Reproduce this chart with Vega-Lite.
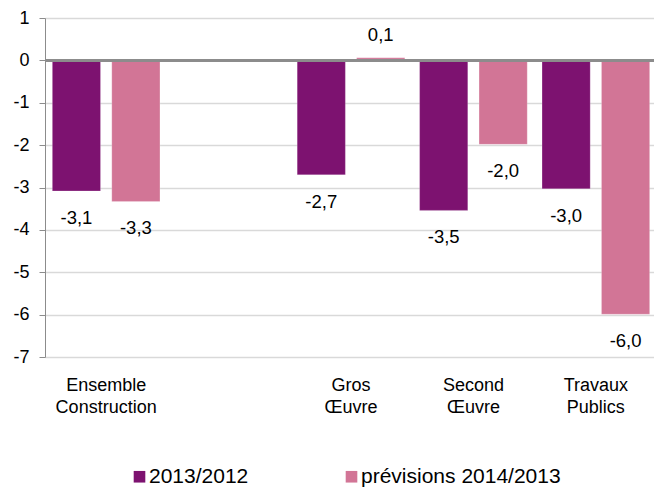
{
  "$schema": "https://vega.github.io/schema/vega-lite/v6.json",
  "width": 609,
  "height": 339,
  "autosize": {"type": "none"},
  "padding": {"left": 45, "top": 18, "right": 0, "bottom": 131},
  "config": {
    "font": "Liberation Sans",
    "view": {"stroke": null},
    "locale": {"number": {"decimal": ",", "thousands": " ", "grouping": [3], "currency": ["", " €"], "minus": "-"}}
  },
  "data": {
    "values": [
      {"categorie": "Ensemble|Construction", "serie": "2013/2012", "valeur": -3.08},
      {"categorie": "Ensemble|Construction", "serie": "prévisions 2014/2013", "valeur": -3.33},
      {"categorie": "Gros|Œuvre", "serie": "2013/2012", "valeur": -2.7},
      {"categorie": "Gros|Œuvre", "serie": "prévisions 2014/2013", "valeur": 0.06},
      {"categorie": "Second|Œuvre", "serie": "2013/2012", "valeur": -3.54},
      {"categorie": "Second|Œuvre", "serie": "prévisions 2014/2013", "valeur": -1.98},
      {"categorie": "Travaux|Publics", "serie": "2013/2012", "valeur": -3.03},
      {"categorie": "Travaux|Publics", "serie": "prévisions 2014/2013", "valeur": -5.99}
    ]
  },
  "encoding": {
    "x": {
      "field": "categorie",
      "type": "nominal",
      "scale": {
        "domain": ["Ensemble|Construction", " ", "Gros|Œuvre", "Second|Œuvre", "Travaux|Publics"],
        "range": [0, 612],
        "paddingInner": 0.121,
        "paddingOuter": 0.06
      },
      "axis": {
        "title": null,
        "orient": "bottom",
        "domain": false,
        "ticks": false,
        "labelAngle": 0,
        "labelExpr": "split(datum.label, '|')",
        "labelFontSize": 18,
        "labelLineHeight": 22,
        "labelPadding": 19,
        "labelColor": "#000000",
        "grid": false
      }
    },
    "xOffset": {
      "field": "serie",
      "type": "nominal",
      "scale": {"paddingInner": 0.19, "paddingOuter": 0}
    }
  },
  "layer": [
    {
      "mark": {"type": "bar", "stroke": "#ffffff", "strokeOpacity": 0.4, "strokeWidth": 0.5},
      "encoding": {
        "y": {
          "field": "valeur",
          "type": "quantitative",
          "scale": {"domain": [-7, 1], "nice": false, "zero": false},
          "axis": {
            "title": null,
            "values": [-7, -6, -5, -4, -3, -2, -1, 0, 1],
            "format": "d",
            "labelFontSize": 18,
            "labelColor": "#000000",
            "labelPadding": 10,
            "tickSize": 6,
            "tickColor": "#8c8c8c",
            "domainColor": "#8c8c8c",
            "gridColor": "#d9d9d9",
            "gridWidth": 1.3
          }
        },
        "color": {
          "field": "serie",
          "type": "nominal",
          "scale": {"domain": ["2013/2012", "prévisions 2014/2013"], "range": ["#7d1270", "#d27596"]},
          "legend": {
            "title": null,
            "orient": "none",
            "direction": "horizontal",
            "legendX": 84,
            "legendY": 448,
            "symbolType": "square",
            "symbolSize": 135,
            "symbolStrokeWidth": 0,
            "symbolOffset": 0,
            "labelOffset": -1,
            "labelFontSize": 21,
            "labelLimit": 0,
            "labelColor": "#000000",
            "columnPadding": 92
          }
        }
      }
    },
    {
      "mark": {"type": "rule", "color": "#8c8c8c", "strokeWidth": 2},
      "encoding": {"y": {"datum": 0, "type": "quantitative"}, "x": {"value": 0}, "x2": {"value": 612}, "xOffset": null}
    },
    {
      "transform": [{"filter": "datum.valeur < 0"}],
      "mark": {"type": "text", "baseline": "middle", "align": "center", "dy": 27, "fontSize": 18.5, "color": "#000000"},
      "encoding": {
        "y": {"field": "valeur", "type": "quantitative"},
        "text": {"field": "valeur", "type": "quantitative", "format": ".1f"}
      }
    },
    {
      "transform": [{"filter": "datum.valeur >= 0"}],
      "mark": {"type": "text", "baseline": "middle", "align": "center", "dy": -23, "fontSize": 18.5, "color": "#000000"},
      "encoding": {
        "y": {"field": "valeur", "type": "quantitative"},
        "text": {"field": "valeur", "type": "quantitative", "format": ".1f"}
      }
    }
  ]
}
